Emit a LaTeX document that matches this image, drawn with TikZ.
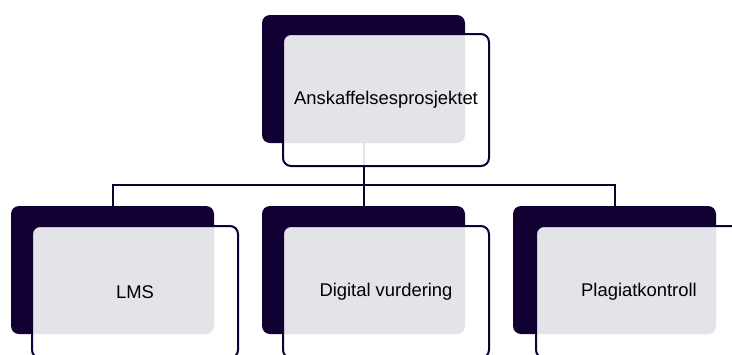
\documentclass[tikz,border=0pt]{standalone}
\usepackage{fontspec}
\setmainfont{Liberation Sans}
\usepackage{tikz}

\definecolor{navy}{RGB}{17,0,50}

\begin{document}
\begin{tikzpicture}[x=1pt, y=-1pt,
    backbox/.style={rectangle, rounded corners=8pt, fill=navy, minimum width=203pt, minimum height=128pt, inner sep=0pt},
    textbox/.style={rectangle, rounded corners=8pt, draw=navy, line width=2pt, fill=white, fill opacity=0.89, text opacity=1, minimum width=206pt, minimum height=132pt, inner sep=0pt, font=\fontsize{18.4}{22}\selectfont},
    conn/.style={draw=navy, line width=2pt}]
                \useasboundingbox (0,0) rectangle (732,354);
                \clip (0,0) rectangle (732,354);

                % Dark boxes behind
                \node at (363.5,79) [backbox] (projback) {};
                \node at (112.5,270) [backbox] (lmsback) {};
                \node at (363.5,270) [backbox] (digiback) {};
                \node at (614.5,270) [backbox] (plagback) {};

                % Connectors
                \coordinate (bus) at (363.5,185);
                \draw[conn] (projback.south) -- (bus);
                \draw[conn] (bus) -| (lmsback.north);
                \draw[conn] (bus) -- (digiback.north);
                \draw[conn] (bus) -| (plagback.north);

                % Boxes with labels
                \node at (386,100) [textbox] (proj) {Anskaffelsesprosjektet};
                \node at (135,292) [textbox] (lms) {LMS};
                \node at (386,292) [textbox] (digi) {Digital vurdering};
                \node at (639,292) [textbox] (plag) {Plagiatkontroll};

\end{tikzpicture}
\end{document}
